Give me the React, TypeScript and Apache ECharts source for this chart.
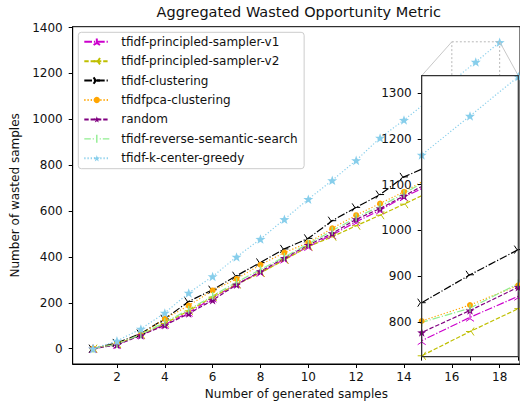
import React, { useEffect, useRef } from "react";
import * as echarts from "echarts";

const xValues = [1, 2, 3, 4, 5, 6, 7, 8, 9, 10, 11, 12, 13, 14, 15, 16, 17, 18];

const seriesNames = [
  "tfidf-principled-sampler-v1",
  "tfidf-principled-sampler-v2",
  "tfidf-clustering",
  "tfidfpca-clustering",
  "random",
  "tfidf-reverse-semantic-search",
  "tfidf-k-center-greedy",
];

const samplerV1 = [0, 18, 60, 105, 158, 220, 283, 332, 390, 445, 496, 553, 604, 662, 710, 759, 810, 856];
const samplerV2 = [0, 20, 60, 110, 165, 225, 280, 330, 387, 445, 488, 536, 582, 630, 680, 726, 779, 829];
const clustering = [0, 25, 66, 130, 206, 257, 318, 376, 435, 481, 558, 616, 672, 749, 795, 842, 903, 958];
const pcaClustering = [0, 22, 62, 130, 188, 254, 304, 366, 419, 462, 525, 582, 633, 684, 742, 802, 837, 880];
const randomSamples = [0, 16, 58, 102, 153, 211, 279, 337, 395, 452, 503, 564, 611, 666, 722, 777, 825, 876];
const reverseSemantic = [0, 20, 62, 115, 170, 230, 290, 345, 400, 457, 514, 572, 621, 676, 738, 799, 830, 884];
const kCenterGreedy = [0, 34, 86, 156, 243, 315, 400, 478, 564, 652, 734, 821, 919, 997, 1080, 1165, 1250, 1336];

const seriesValues = [samplerV1, samplerV2, clustering, pcaClustering, randomSamples, reverseSemantic, kCenterGreedy];

const xTicks = [2, 4, 6, 8, 10, 12, 14, 16, 18];
const yTicks = [0, 200, 400, 600, 800, 1000, 1200, 1400];
const insetXTicks = [16, 17, 18];
const insetYTicks = [800, 900, 1000, 1100, 1200, 1300];

const FONT = "DejaVu Sans";
const TEXT = "#111";

const STAR = "path://M0,-10L2.35,-3.24L9.51,-3.09L3.8,1.24L5.88,8.09L0,4L-5.88,8.09L-3.8,1.24L-9.51,-3.09L-2.35,-3.24Z";
const TRI_UP = "path://M0,0L0,-10M0,0L-8.66,5M0,0L8.66,5";
const TRI_LEFT = "path://M0,0L-10,0M0,0L5,-8.66M0,0L5,8.66";
const TRI_RIGHT = "path://M0,0L10,0M0,0L-5,-8.66M0,0L-5,8.66";
const VBAR = "path://M-1.6,-10L1.6,-10L1.6,10L-1.6,10Z";
// legend handle for the vbar series: dash-dot line with a thin vertical bar in the middle
const VBAR_LEGEND =
  "path://M0,3.4H6.5V4.6H0Z M8.4,3.4H9.6V4.6H8.4Z M11.8,0H13.2V8H11.8Z M15.4,3.4H16.6V4.6H15.4Z M18.5,3.4H25V4.6H18.5Z";

const DASHED = [4.4, 1.9];
const DASHDOT = [7.7, 1.9, 1.2, 1.9];
const DOTTED = [1.2, 2];

const styles = [
  { color: "#cc00cc", dash: DASHDOT, symbol: TRI_UP, size: 8, bw: 1, keep: false },
  { color: "#bfbf00", dash: DASHED, symbol: TRI_LEFT, size: 8, bw: 1, keep: false },
  { color: "#000000", dash: DASHDOT, symbol: TRI_RIGHT, size: 8, bw: 1, keep: false },
  { color: "#ffa500", dash: DOTTED, symbol: "circle", size: 6, bw: 0, keep: false },
  { color: "#800080", dash: DASHED, symbol: STAR, size: 9, bw: 0, keep: true },
  { color: "#90ee90", dash: DASHDOT, symbol: VBAR, size: 8, bw: 0, keep: true },
  { color: "#87ceeb", dash: DOTTED, symbol: STAR, size: 10, bw: 0, keep: true },
];

function buildSeries(gridIdx: number) {
  return seriesNames.map((name, i) => {
    const st = styles[i];
    return {
      type: "line",
      name,
      data: xValues.map((x, j) => [x, seriesValues[i][j]]),
      xAxisIndex: gridIdx,
      yAxisIndex: gridIdx,
      symbol: st.symbol,
      symbolSize: st.size,
      symbolKeepAspect: st.keep,
      showSymbol: true,
      lineStyle: { color: st.color, width: 1.2, type: st.dash },
      itemStyle: { color: st.color, borderColor: st.color, borderWidth: st.bw },
      z: gridIdx ? 15 : 2,
      clip: true,
      silent: true,
      emphasis: { disabled: true },
    };
  });
}

const labelStyle = { fontFamily: FONT, fontSize: 12, color: TEXT };
const plain = (v: number) => String(v);

export default function App() {
  const ref = useRef<HTMLDivElement>(null);
  useEffect(() => {
    if (!ref.current) return;
    const chart = echarts.init(ref.current, null, { renderer: "svg" });
    const mainGrid = { left: 72.7, top: 26.7, width: 452, height: 337.3 };
    const insetGrid = { left: 421.7, top: 75.7, width: 96.6, height: 281 };
    const insetX = [16, 18];
    const insetY = [724, 1338];
    const legendData = seriesNames.map((n, i) => (styles[i].symbol === VBAR ? { name: n, icon: VBAR_LEGEND } : n));
    const option: any = {
      animation: false,
      backgroundColor: "#fff",
      grid: [
        { ...mainGrid, show: true, borderColor: "#000", borderWidth: 1, backgroundColor: "transparent" },
        { ...insetGrid, show: true, borderWidth: 0, backgroundColor: "#fff", z: 10 },
      ],
      xAxis: [
        {
          type: "value",
          gridIndex: 0,
          min: 0.15,
          max: 18.85,
          axisLine: { show: true, onZero: false, lineStyle: { color: "#000", width: 1 } },
          axisTick: { show: true, length: 4, customValues: xTicks, lineStyle: { color: "#000" } },
          axisLabel: { ...labelStyle, margin: 7, customValues: xTicks, formatter: plain },
          splitLine: { show: false },
          name: "Number of generated samples",
          nameLocation: "middle",
          nameGap: 24,
          nameTextStyle: labelStyle,
        },
        {
          type: "value",
          gridIndex: 1,
          min: insetX[0],
          max: insetX[1],
          z: 20,
          axisLine: { show: true, onZero: false, lineStyle: { color: "#333", width: 1 } },
          axisTick: { show: true, length: 4, customValues: insetXTicks, lineStyle: { color: "#000" } },
          axisLabel: { show: false },
          splitLine: { show: false },
        },
      ],
      yAxis: [
        {
          type: "value",
          gridIndex: 0,
          min: -66.85,
          max: 1403.85,
          axisLine: { show: true, onZero: false, lineStyle: { color: "#000", width: 1 } },
          axisTick: { show: true, length: 4, customValues: yTicks, lineStyle: { color: "#000" } },
          axisLabel: { ...labelStyle, margin: 10, customValues: yTicks, formatter: plain },
          splitLine: { show: false },
          name: "Number of wasted samples",
          nameLocation: "middle",
          nameGap: 48,
          nameTextStyle: labelStyle,
        },
        {
          type: "value",
          gridIndex: 1,
          min: insetY[0],
          max: insetY[1],
          z: 20,
          axisLine: { show: true, onZero: false, lineStyle: { color: "#333", width: 1 } },
          axisTick: { show: true, length: 4, customValues: insetYTicks, lineStyle: { color: "#000" } },
          axisLabel: { ...labelStyle, margin: 10, customValues: insetYTicks, formatter: plain },
          splitLine: { show: false },
        },
      ],
      legend: {
        data: legendData,
        orient: "vertical",
        left: 78.3,
        top: 32.3,
        itemWidth: 25,
        itemHeight: 8,
        itemGap: 7.4,
        padding: [3.5, 6.5, 4.5, 5],
        backgroundColor: "rgba(255,255,255,0.85)",
        borderColor: "#cccccc",
        borderWidth: 1,
        borderRadius: 3,
        selectedMode: false,
        symbolKeepAspect: true,
        textStyle: { ...labelStyle, padding: [0, 0, 0, 7] },
      },
      series: [...buildSeries(0), ...buildSeries(1)],
    };
    chart.setOption(option);

    const pTL = chart.convertToPixel({ gridIndex: 0 } as any, [insetX[0], insetY[1]]) as number[];
    const pBR = chart.convertToPixel({ gridIndex: 0 } as any, [insetX[1], insetY[0]]) as number[];
    const iTL = chart.convertToPixel({ gridIndex: 1 } as any, [insetX[0], insetY[1]]) as number[];
    const iBR = chart.convertToPixel({ gridIndex: 1 } as any, [insetX[1], insetY[0]]) as number[];
    const axesMid = mainGrid.left + mainGrid.width / 2;

    chart.setOption({
      graphic: [
        {
          type: "rect",
          z: 5,
          silent: true,
          shape: { x: pTL[0], y: pTL[1], width: pBR[0] - pTL[0], height: pBR[1] - pTL[1] },
          style: { fill: "none", stroke: "#b8b8b8", lineWidth: 1, lineDash: [2, 2] },
        },
        {
          type: "line",
          z: 5,
          silent: true,
          shape: { x1: pTL[0], y1: pTL[1], x2: iTL[0], y2: iTL[1] },
          style: { stroke: "#c8c8c8", lineWidth: 1 },
        },
        {
          type: "line",
          z: 5,
          silent: true,
          shape: { x1: pBR[0], y1: pTL[1], x2: iBR[0], y2: iTL[1] },
          style: { stroke: "#c8c8c8", lineWidth: 1 },
        },
        {
          type: "rect",
          z: 25,
          silent: true,
          shape: { x: iTL[0], y: iTL[1], width: iBR[0] - iTL[0], height: iBR[1] - iTL[1] },
          style: { fill: "none", stroke: "#333", lineWidth: 1.2 },
        },
        {
          type: "text",
          z: 30,
          silent: true,
          x: axesMid,
          y: 4.5,
          style: {
            text: "Aggregated Wasted Opportunity Metric",
            fontFamily: FONT,
            fontSize: 14.5,
            fill: TEXT,
            textAlign: "center",
            textVerticalAlign: "top",
          },
        },
      ],
    });

    return () => chart.dispose();
  }, []);
  return (
    <div
      ref={ref}
      style={{ position: "fixed", left: 0, top: 0, width: 520, height: 407, background: "#fff" }}
    />
  );
}
